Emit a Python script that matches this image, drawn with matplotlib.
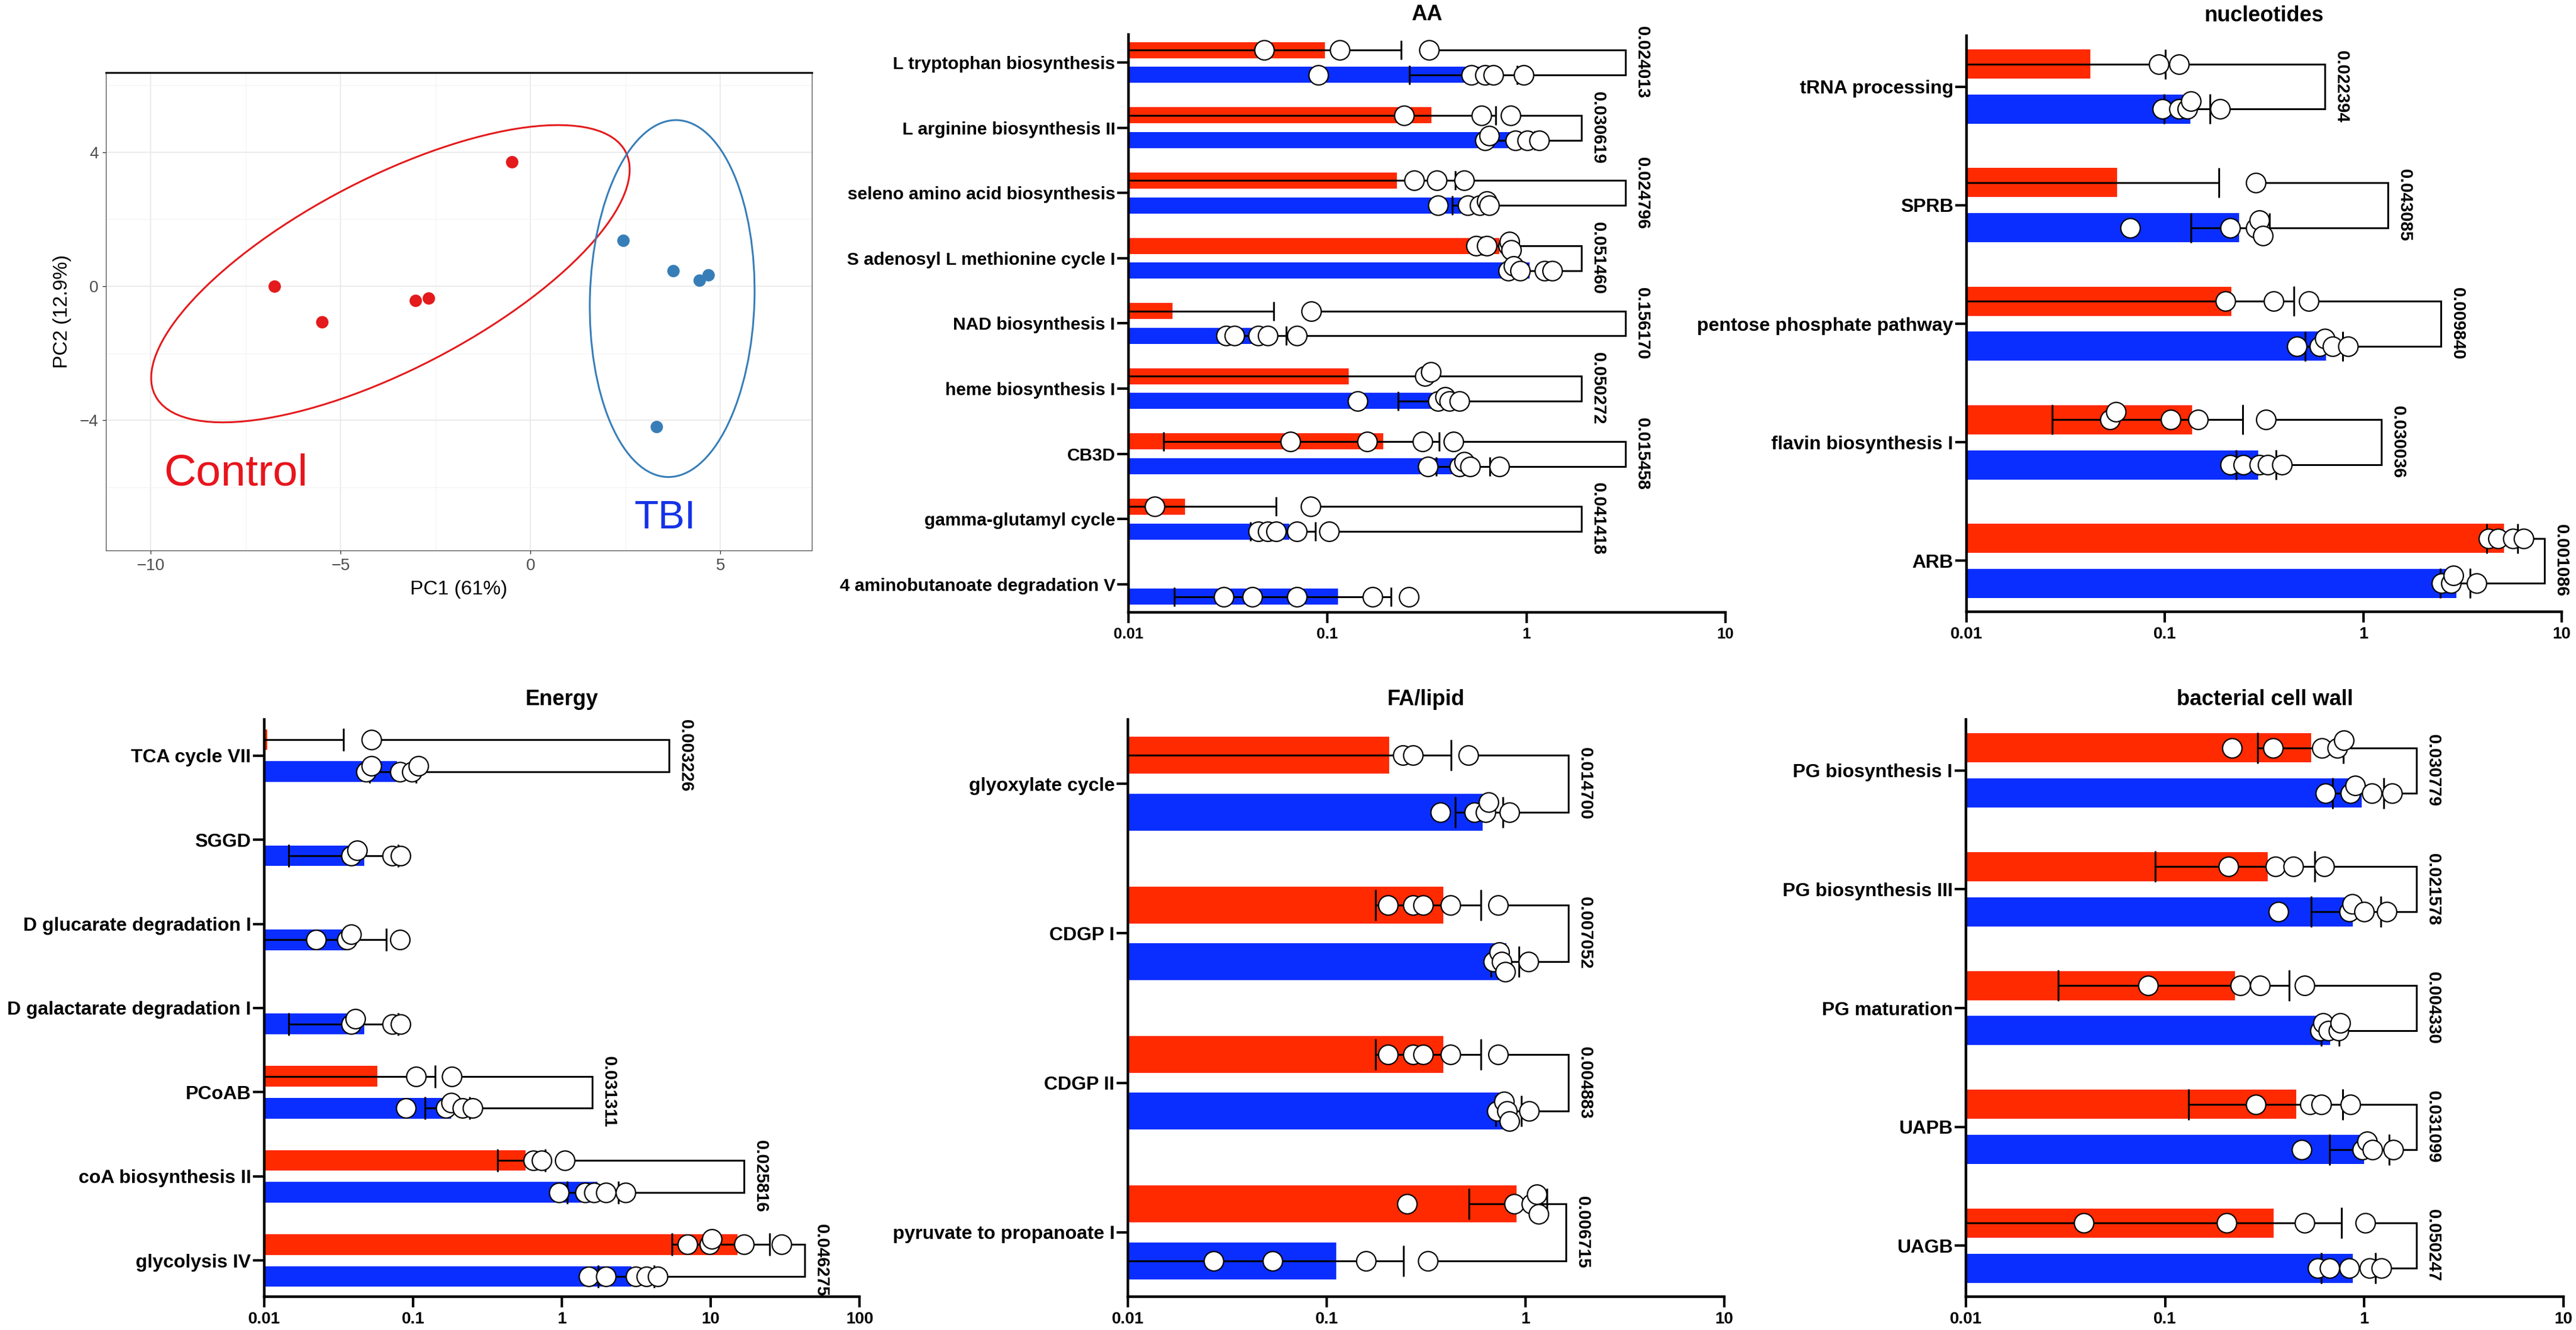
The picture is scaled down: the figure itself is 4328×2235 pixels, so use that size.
import numpy as np
import matplotlib
matplotlib.use('Agg')
import matplotlib.pyplot as plt
from matplotlib.patches import Ellipse

plt.rcParams['font.family'] = ['Liberation Sans', 'DejaVu Sans']
nan = np.nan

# ---------------- PCA data ----------------
pc_ctrl_x = [-6.74, -5.49, -3.03, -2.69, -0.49]
pc_ctrl_y = [0.0, -1.06, -0.43, -0.36, 3.72]
pc_tbi_x = [2.44, 3.76, 4.45, 4.69, 3.32]
pc_tbi_y = [1.37, 0.46, 0.18, 0.34, -4.19]
ctrl_ellipse_shape = [[39.7, 19.6], [19.6, 19.7]]
tbi_ellipse_shape = [[4.71, 0.53], [0.53, 28.4]]

# ---------------- AA ----------------
aa_labels = ['L tryptophan biosynthesis', 'L arginine biosynthesis II', 'seleno amino acid biosynthesis',
             'S adenosyl L methionine cycle I', 'NAD biosynthesis I', 'heme biosynthesis I', 'CB3D',
             'gamma-glutamyl cycle', '4 aminobutanoate degradation V']
aa_ctrl_mean = [0.097, 0.333, 0.223, 0.73, 0.0166, 0.128, 0.19, 0.0193, nan]
aa_ctrl_sd = [0.137, 0.369, 0.217, 0.13, 0.037, 0.175, 0.175, 0.0357, nan]
aa_ctrl_pts = [[0.048, 0.115, 0.324], [0.243, 0.594, 0.83], [0.273, 0.354, 0.486],
               [0.56, 0.63, 0.81, 0.82, 0.84], [0.083], [0.309, 0.33], [0.065, 0.158, 0.30, 0.43],
               [0.0135, 0.082], []]
aa_tbi_mean = [0.578, 0.864, 0.545, 1.04, 0.046, 0.352, 0.503, 0.064, 0.113]
aa_tbi_sd = [0.32, 0.23, 0.12, 0.24, 0.016, 0.125, 0.15, 0.023, 0.096]
aa_tbi_pts = [[0.090, 0.529, 0.62, 0.68, 0.97], [0.62, 0.65, 0.88, 1.01, 1.16],
              [0.36, 0.506, 0.58, 0.63, 0.65], [0.81, 0.86, 0.93, 1.23, 1.35],
              [0.031, 0.034, 0.045, 0.05, 0.07], [0.142, 0.36, 0.39, 0.41, 0.46],
              [0.32, 0.46, 0.486, 0.52, 0.73], [0.045, 0.05, 0.055, 0.07, 0.102],
              [0.03, 0.042, 0.07, 0.168, 0.256]]
aa_p = ['0.024013', '0.030619', '0.024796', '0.051460', '0.156170', '0.050272', '0.015458', '0.041418', None]

# ---------------- nucleotides ----------------
nuc_labels = ['tRNA processing', 'SPRB', 'pentose phosphate pathway', 'flavin biosynthesis I', 'ARB']
nuc_ctrl_mean = [0.042, 0.0576, 0.217, 0.137, 5.1]
nuc_ctrl_sd = [0.0585, 0.129, 0.229, 0.11, 0.9]
nuc_ctrl_pts = [[0.093, 0.118], [0.288], [0.202, 0.353, 0.53], [0.053, 0.0566, 0.107, 0.147, 0.322],
                [4.27, 4.76, 5.66, 6.41]]
nuc_tbi_mean = [0.134, 0.236, 0.649, 0.296, 2.95]
nuc_tbi_sd = [0.035, 0.101, 0.14, 0.067, 0.5]
nuc_tbi_pts = [[0.097, 0.118, 0.130, 0.135, 0.19], [0.067, 0.213, 0.288, 0.30, 0.312],
               [0.463, 0.60, 0.64, 0.70, 0.84], [0.213, 0.248, 0.30, 0.33, 0.39], [2.48, 2.77, 2.84, 3.73]]
nuc_p = ['0.022394', '0.043085', '0.009840', '0.030036', '0.001086']

# ---------------- Energy ----------------
en_labels = ['TCA cycle VII', 'SGGD', 'D glucarate degradation I', 'D galactarate degradation I',
             'PCoAB', 'coA biosynthesis II', 'glycolysis IV']
en_ctrl_mean = [0.0105, nan, nan, nan, 0.0574, 0.57, 15.2]
en_ctrl_sd = [0.0235, nan, nan, nan, 0.0832, 0.2, 9.7]
en_ctrl_pts = [[0.0525], [], [], [], [0.105, 0.182], [0.64, 0.73, 1.05], [6.98, 9.8, 10.2, 16.7, 30.0]]
en_tbi_mean = [0.078, 0.047, 0.036, 0.047, 0.18, 1.74, 2.95]
en_tbi_sd = [0.027, 0.0324, 0.030, 0.0324, 0.06, 0.65, 1.2]
en_tbi_pts = [[0.0483, 0.0525, 0.0817, 0.0982, 0.1086], [0.0384, 0.042, 0.0725, 0.0824],
              [0.0223, 0.036, 0.0384, 0.0817], [0.0384, 0.041, 0.0725, 0.0824],
              [0.0895, 0.166, 0.18, 0.215, 0.251], [0.955, 1.43, 1.64, 1.98, 2.69],
              [1.51, 1.98, 3.13, 3.7, 4.41]]
en_p = ['0.003226', None, None, None, '0.031311', '0.025816', '0.046275']

# ---------------- FA/lipid ----------------
fa_labels = ['glyoxylate cycle', 'CDGP I', 'CDGP II', 'pyruvate to propanoate I']
fa_ctrl_mean = [0.206, 0.386, 0.386, 0.90]
fa_ctrl_sd = [0.216, 0.21, 0.21, 0.38]
fa_ctrl_pts = [[0.242, 0.272, 0.516], [0.203, 0.272, 0.305, 0.42, 0.728],
               [0.203, 0.272, 0.305, 0.42, 0.728], [0.254, 0.877, 1.07, 1.14, 1.16]]
fa_tbi_mean = [0.607, 0.80, 0.83, 0.112]
fa_tbi_sd = [0.165, 0.13, 0.12, 0.132]
fa_tbi_pts = [[0.373, 0.553, 0.63, 0.65, 0.83], [0.69, 0.74, 0.76, 0.79, 1.035],
              [0.72, 0.78, 0.81, 0.83, 1.04], [0.027, 0.0535, 0.158, 0.323]]
fa_p = ['0.014700', '0.007052', '0.004883', '0.006715']

# ---------------- bacterial cell wall ----------------
bcw_labels = ['PG biosynthesis I', 'PG biosynthesis III', 'PG maturation', 'UAPB', 'UAGB']
bcw_ctrl_mean = [0.539, 0.327, 0.224, 0.456, 0.351]
bcw_ctrl_sd = [0.247, 0.238, 0.195, 0.325, 0.418]
bcw_ctrl_pts = [[0.216, 0.349, 0.614, 0.73, 0.787], [0.208, 0.359, 0.44, 0.63], [0.082, 0.239, 0.30, 0.50],
                [0.286, 0.535, 0.61, 0.85], [0.039, 0.204, 0.50, 1.01]]
bcw_tbi_mean = [0.972, 0.876, 0.676, 1.0, 0.875]
bcw_tbi_sd = [0.279, 0.336, 0.07, 0.33, 0.265]
bcw_tbi_pts = [[0.64, 0.85, 0.90, 1.09, 1.38], [0.37, 0.84, 0.87, 1.0, 1.30], [0.60, 0.62, 0.66, 0.74, 0.76],
               [0.486, 0.98, 1.03, 1.1, 1.40], [0.585, 0.67, 0.84, 1.06, 1.22]]
bcw_p = ['0.030779', '0.021578', '0.004330', '0.031099', '0.050247']

# ---------------- layout ----------------
W, H = 4328, 2235
fig = plt.figure(figsize=(W / 100, H / 100), dpi=100)
RED = '#FF2A00'
BLUE = '#0A2EFF'


def px_axes(l, r, t, b):
    return fig.add_axes([l / W, 1 - b / H, (r - l) / W, (b - t) / H])


# ---------------- PCA panel ----------------
ax = px_axes(178, 1364, 122, 925)
ax.set_xlim(-11.18, 7.41)
ax.set_ylim(-7.89, 6.38)
ax.set_xticks([-10, -5, 0, 5])
ax.set_yticks([-4, 0, 4])
ax.set_xticks([-7.5, -2.5, 2.5], minor=True)
ax.set_yticks([-6, -2, 2, 6], minor=True)
ax.grid(which='major', color='#EBEBEB', lw=1.5)
ax.grid(which='minor', color='#F3F3F3', lw=0.9)
ax.set_axisbelow(True)
ax.tick_params(which='minor', length=0)
ax.tick_params(which='major', length=4, width=1.0, color='#333333', labelsize=20,
               labelcolor='#4D4D4D', pad=5)
for s in ax.spines.values():
    s.set_color('#555555')
    s.set_linewidth(1.0)
ax.spines['top'].set_color('black')
ax.spines['top'].set_linewidth(2.2)
for xs, ys, shape, col in [(pc_ctrl_x, pc_ctrl_y, ctrl_ellipse_shape, '#E41A1C'),
                           (pc_tbi_x, pc_tbi_y, tbi_ellipse_shape, '#377EB8')]:
    ax.scatter(xs, ys, s=15 ** 2, color=col, zorder=3, linewidths=0)
    c = (np.mean(xs), np.mean(ys))
    w, v = np.linalg.eigh(np.array(shape))
    ang = np.degrees(np.arctan2(v[1, 1], v[0, 1]))
    ax.add_patch(Ellipse(c, 2 * np.sqrt(w[1]), 2 * np.sqrt(w[0]), angle=ang, fill=False,
                         ec=col, lw=2.2, zorder=2))
ax.text(-9.65, -5.6, 'Control', color='#E8141C', fontsize=54, ha='left', va='center')
ax.text(3.54, -6.93, 'TBI', color='#1432E6', fontsize=48, ha='center', va='center')
ax.set_xlabel('PC1 (61%)', fontsize=24, labelpad=8)
ax.set_ylabel('PC2 (12.9%)', fontsize=24, labelpad=10)


# ---------------- bar panels ----------------
def spread(vals, decade_px, dy=0.066, thr=13):
    offs = np.zeros(len(vals))
    placed = []
    for idx in np.argsort(vals):
        p = np.log10(vals[idx]) * decade_px
        lvl = 0
        for lvl in (0, -1, 1, -2, 2):
            if all(abs(p - q) >= thr for q, l in placed if l == lvl):
                break
        placed.append((p, lvl))
        offs[idx] = lvl * dy
    return offs


def bar_panel(rect, title, labels, cm, csd, cpts, tm, tsd, tpts, pv, bx, xmax, ticks, lab_fs,
              tick_fs, cap):
    l, r, t, b = rect
    ax = px_axes(l, r, t, b)
    n = len(labels)
    ax.set_xscale('log')
    ax.set_xlim(0.01, xmax)
    ax.set_ylim(n - 1 + 0.43, -0.43)
    decade_px = (r - l) / np.log10(xmax / 0.01)
    off, hgt = 0.19, 0.246
    for i in range(n):
        rows = [(cm[i], csd[i], cpts[i], RED, i - off), (tm[i], tsd[i], tpts[i], BLUE, i + off)]
        for m, s, pts, col, yy in rows:
            if np.isnan(m):
                continue
            ax.barh(yy, m - 1e-4, left=1e-4, height=hgt, color=col, zorder=1, linewidth=0)
            lo = max(m - s, 1e-4)
            ax.errorbar([m], [yy], xerr=[[m - lo], [s]], fmt='none', ecolor='black', elinewidth=2.2,
                        capsize=cap, capthick=2.2, zorder=2)
            if len(pts):
                oy = spread(np.array(pts), decade_px)
                ax.plot(pts, yy + oy, 'o', ms=23.5, mfc='white', mec='black', mew=1.6, zorder=4,
                        linestyle='none')
        if pv[i] is not None:
            yc, yt = i - off, i + off
            sc = max(list(cpts[i]) + [cm[i] + csd[i]])
            st = max(list(tpts[i]) + [tm[i] + tsd[i]])
            ax.plot([sc, bx[i], bx[i], st], [yc, yc, yt, yt], color='black', lw=2.2, zorder=3,
                    solid_joinstyle='miter')
            ax.annotate(pv[i], xy=(bx[i], i), xytext=(20, 0), textcoords='offset points',
                        rotation=-90, ha='center', va='center', fontsize=21, fontweight='bold')
    ax.set_yticks(range(n))
    ax.set_yticklabels(labels, fontsize=lab_fs, fontweight='bold')
    ax.set_xticks(ticks)
    ax.set_xticklabels([('%g' % v) for v in ticks], fontsize=tick_fs, fontweight='bold')
    ax.xaxis.set_minor_locator(matplotlib.ticker.NullLocator())
    ax.tick_params(axis='y', length=14, width=3.0, pad=2)
    ax.tick_params(axis='x', length=13, width=3.0, pad=5)
    for s in ['top', 'right']:
        ax.spines[s].set_visible(False)
    for s in ['left', 'bottom']:
        ax.spines[s].set_linewidth(3.2)
    ax.set_title(title, fontsize=26, fontweight='bold', pad=17)
    return ax


dec3 = [0.01, 0.1, 1, 10]
bar_panel((1896, 2899, 58, 1029), 'AA', aa_labels, aa_ctrl_mean, aa_ctrl_sd, aa_ctrl_pts,
          aa_tbi_mean, aa_tbi_sd, aa_tbi_pts, aa_p,
          [3.15, 1.89, 3.15, 1.89, 3.15, 1.89, 3.15, 1.89, None], 10, dec3, 21.5, 18.5, 11.5)
bar_panel((3304, 4304, 60, 1028), 'nucleotides', nuc_labels, nuc_ctrl_mean, nuc_ctrl_sd, nuc_ctrl_pts,
          nuc_tbi_mean, nuc_tbi_sd, nuc_tbi_pts, nuc_p,
          [0.64, 1.33, 2.46, 1.23, 8.2], 10, dec3, 23, 20, 18)
bar_panel((444, 1444, 1209, 2179), 'Energy', en_labels, en_ctrl_mean, en_ctrl_sd, en_ctrl_pts,
          en_tbi_mean, en_tbi_sd, en_tbi_pts, en_p,
          [5.25, None, None, None, 1.6, 16.7, 43], 100, [0.01, 0.1, 1, 10, 100], 23, 20, 14)
bar_panel((1895, 2897, 1209, 2179), 'FA/lipid', fa_labels, fa_ctrl_mean, fa_ctrl_sd, fa_ctrl_pts,
          fa_tbi_mean, fa_tbi_sd, fa_tbi_pts, fa_p,
          [1.64, 1.64, 1.64, 1.6], 10, dec3, 23, 20, 19)
bar_panel((3303, 4307, 1209, 2179), 'bacterial cell wall', bcw_labels, bcw_ctrl_mean, bcw_ctrl_sd,
          bcw_ctrl_pts, bcw_tbi_mean, bcw_tbi_sd, bcw_tbi_pts, bcw_p,
          [1.83] * 5, 10, dec3, 23, 20, 19)

fig.savefig('out.png', dpi=100)
